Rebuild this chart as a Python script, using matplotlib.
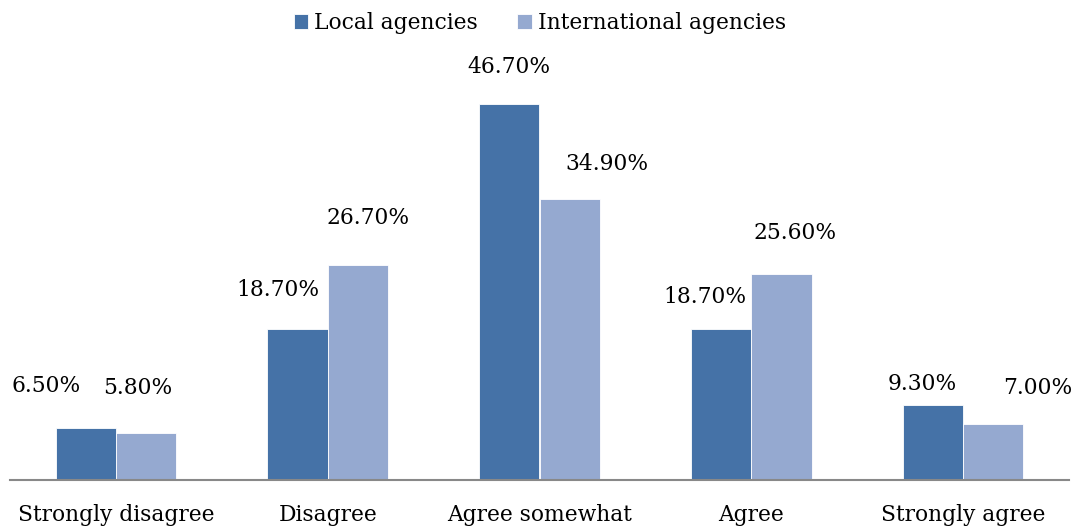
import numpy as np
import matplotlib.pyplot as plt

categories = ["Strongly disagree", "Disagree", "Agree somewhat", "Agree", "Strongly agree"]
local = [6.5, 18.7, 46.7, 18.7, 9.3]
international = [5.8, 26.7, 34.9, 25.6, 7.0]

# label nudges (pixels) from the top centre of each bar
local_offsets = [(-40, 42), (-20, 39), (0, 37), (-16, 32), (-11, 21)]
intl_offsets = [(-8, 45), (10, 47), (37, 35), (14, 41), (44, 36)]

plt.rcParams["font.family"] = ["DejaVu Serif"]
fs = 15.7

fig = plt.figure(figsize=(10.82, 5.30), dpi=100)
ax = fig.add_axes([10 / 1082, 50 / 530, 1059 / 1082, 402.5 / 530])

x = np.arange(len(categories))
w = 0.285
b1 = ax.bar(x - w / 2, local, w, color="#4572A7", edgecolor="white", linewidth=0.6,
            label="Local agencies")
b2 = ax.bar(x + w / 2, international, w, color="#95A9D0", edgecolor="white", linewidth=0.6,
            label="International agencies")

for bars, vals, offs in [(b1, local, local_offsets), (b2, international, intl_offsets)]:
    for rect, v, (dx, dy) in zip(bars, vals, offs):
        ax.annotate(f"{v:.2f}%", (rect.get_x() + rect.get_width() / 2, v),
                    xytext=(dx, dy), textcoords="offset pixels",
                    ha="center", va="center", fontsize=fs, color="black",
                    annotation_clip=False)

ax.set_xlim(-0.5, len(categories) - 0.5)
ax.set_ylim(0, 50)
ax.set_xticks(x)
ax.set_xticklabels(categories, fontsize=fs)
ax.tick_params(axis="x", length=0, pad=17)
ax.set_yticks([])
for side in ["left", "right", "top"]:
    ax.spines[side].set_visible(False)
ax.spines["bottom"].set_color("#888888")
ax.spines["bottom"].set_linewidth(1.5)

fig.legend(handles=[b1, b2], loc="center", bbox_to_anchor=(540 / 1082, 1 - 23 / 530),
           ncol=2, frameon=False, fontsize=fs, handlelength=0.65, handleheight=0.65,
           handletextpad=0.3, columnspacing=1.8)

fig.savefig("out.png", dpi=100)
